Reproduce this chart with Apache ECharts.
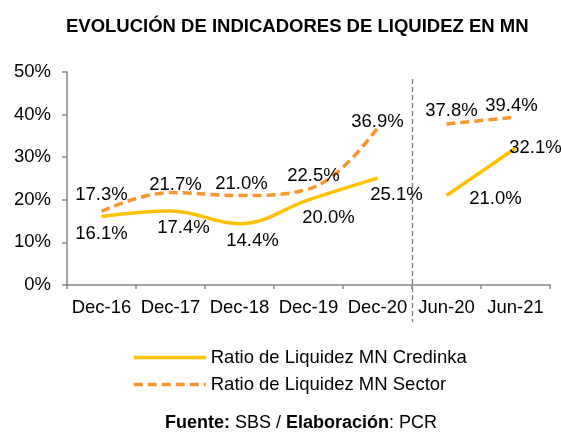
<!DOCTYPE html>
<html><head><meta charset="utf-8">
<script src="https://cdn.jsdelivr.net/npm/echarts@6/dist/echarts.min.js"></script>
<style>html,body{margin:0;padding:0;background:#fff}#c{width:562px;height:432px}</style>
</head><body><div id="c"></div>
<script>
const categories = ['Dec-16','Dec-17','Dec-18','Dec-19','Dec-20','Jun-20','Jun-21'];
const credinka = [16.1, 17.4, 14.4, 20.0, 25.1, 21.0, 32.1];
const sector = [17.3, 21.7, 21.0, 22.5, 36.9, 37.8, 39.4];
const yTicks = [0, 10, 20, 30, 40, 50];
const splitIndex = 5; // first category of second period

const FONT = '"Liberation Sans", Arial, sans-serif';
const cOff = [[0,17],[13,17],[13,17],[20,18],[19,17],[49,3],[20,0]];
const sOff = [[0,-16],[5,-8],[2,-12],[5,-13],[0,-6],[5,-13],[-4,-11]];

function seg(vals, from, to, offs) {
  return vals.map((v, i) => (i >= from && i < to) ? {
    value: v,
    label: { show: true, offset: offs[i] }
  } : null);
}
function mk(name, vals, from, to, offs, color, type, width) {
  return {
    name: name, type: 'line', smooth: 0.4, symbol: 'circle', symbolSize: 2, showSymbol: true,
    data: seg(vals, from, to, offs),
    connectNulls: false,
    lineStyle: { color: color, width: width, type: type },
    itemStyle: { color: 'rgba(0,0,0,0)', borderWidth: 0 },
    emphasis: { disabled: true },
    label: { show: true, position: 'inside', color: '#000', fontSize: 18.5, fontFamily: FONT,
      formatter: p => p.value.toFixed(1) + '%' }
  };
}
const C1 = 'Ratio de Liquidez MN Credinka', C2 = 'Ratio de Liquidez MN Sector';
const yel = '#FFC000', org = '#F7962F';
const sepStyle = { color: '#7f7f7f', type: [5, 3], width: 1.3 };
const chart = echarts.init(document.getElementById('c'));
chart.setOption({
  animation: false,
  title: [{
    text: 'EVOLUCIÓN DE INDICADORES DE LIQUIDEZ EN MN', left: 61, top: 12,
    textStyle: { fontFamily: FONT, fontSize: 18.5, fontWeight: 'bold', color: '#000' }
  }, {
    text: '{b|Fuente:} SBS / {b|Elaboración}: PCR', left: 160, top: 409,
    textStyle: { fontFamily: FONT, fontSize: 18, color: '#000', fontWeight: 'normal',
      rich: { b: { fontFamily: FONT, fontSize: 18, fontWeight: 'bold', color: '#000' } } }
  }],
  legend: {
    orient: 'vertical', left: 127, top: 343, itemWidth: 72, itemHeight: 14, itemGap: 8,
    data: [C1, C2],
    itemStyle: { opacity: 0 },
    lineStyle: { width: 3.5 },
    textStyle: { fontFamily: FONT, fontSize: 18.5, color: '#000' }
  },
  grid: { left: 67, right: 12, top: 72, bottom: 147 },
  xAxis: [{
    type: 'category', data: categories, boundaryGap: true,
    axisLine: { lineStyle: { color: '#868686', width: 1.5 } },
    axisTick: { show: true, length: 4, lineStyle: { color: '#868686', width: 1.5 } },
    axisLabel: { color: '#000', fontSize: 18.5, fontFamily: FONT, margin: 13, interval: 0 },
    splitLine: { show: false }
  }, {
    type: 'value', min: 0, max: categories.length, interval: splitIndex,
    position: 'bottom', offset: -206,
    axisLine: { show: false }, axisLabel: { show: false }, splitLine: { show: false },
    axisTick: { show: true, length: 243, customValues: [splitIndex], lineStyle: sepStyle }
  }],
  yAxis: {
    type: 'value', min: yTicks[0], max: yTicks[yTicks.length - 1], interval: 10,
    axisLine: { show: true, lineStyle: { color: '#868686', width: 1.5 } },
    axisTick: { show: true, length: 5, lineStyle: { color: '#868686', width: 1.5 } },
    splitLine: { show: false },
    axisLabel: { color: '#000', fontSize: 18.5, fontFamily: FONT, margin: 16, formatter: '{value}%' }
  },
  series: [
    mk(C1, credinka, 0, splitIndex, cOff, yel, 'solid', 3.5),
    mk(C2, sector, 0, splitIndex, sOff, org, [9, 5], 3.5),
    mk(C1, credinka, splitIndex, categories.length, cOff, yel, 'solid', 3.5),
    mk(C2, sector, splitIndex, categories.length, sOff, org, [9, 5], 3.5)
  ]
});
</script></body></html>
